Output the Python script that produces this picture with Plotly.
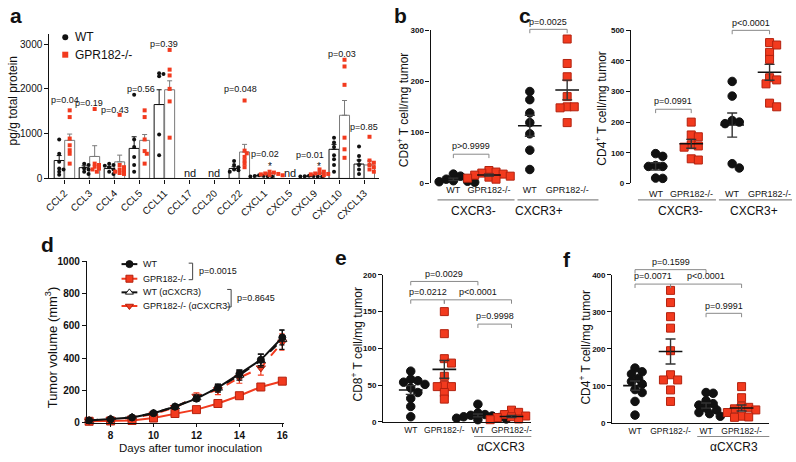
import numpy as np
import plotly.graph_objects as go

W, H = 796, 462
FONT = "Liberation Sans, Arial, sans-serif"
BLK = "#111111"
RED = "#f23a1e"
RED_LINE = "#b3220f"
GREY = "#8a8a8a"

# ---------------- panel a: chemokines (pg/g total protein) ----------------
chemokines = ["CCL2", "CCL3", "CCL4", "CCL5", "CCL11", "CCL17", "CCL20",
              "CCL22", "CXCL1", "CXCL5", "CXCL9", "CXCL10", "CXCL13"]
a_wt_mean = [400, 240, 220, 670, 1650, None, None, 220, 60, None, 50, 650, 320]
a_wt_sem = [110, 40, 40, 260, 330, None, None, 40, 8, None, 6, 110, 90]
a_ko_mean = [850, 490, 370, 850, 1980, None, None, 590, 110, None, 110, 1410, 300]
a_ko_sem = [140, 240, 150, 130, 200, None, None, 170, 15, None, 15, 330, 90]
a_wt_pts = [[870, 550, 370, 220, 200, 150, 80],
            [330, 300, 220, 200, 150, 100],
            [330, 300, 280, 250, 200, 150, 100],
            [1870, 870, 700, 480, 300, 150],
            [2330, 2350, 2280, 980, 520],
            [], [],
            [390, 300, 250, 200, 180, 150],
            [70, 60, 55, 50, 45, 40],
            [],
            [60, 55, 50, 45, 40, 35],
            [910, 800, 700, 520, 430, 300, 150],
            [710, 500, 400, 300, 200, 100]]
a_ko_pts = [[1520, 1370, 890, 740, 630, 550, 330],
            [1550, 330, 300, 260, 220, 200, 150],
            [1420, 300, 250, 200, 180, 150, 120, 100],
            [1520, 1370, 870, 610, 550, 330],
            [2870, 2430, 2300, 2000, 1720, 910],
            [], [],
            [1740, 620, 560, 480, 400, 330, 250],
            [150, 130, 110, 100, 90, 80, 70],
            [],
            [200, 150, 120, 110, 100, 90, 70],
            [2650, 2500, 2090, 910, 650, 460],
            [930, 400, 350, 300, 250, 200, 150]]
a_pvals = ["p=0.04", "p=0.19", "p=0.43", "p=0.56", "p=0.39", "p=0.048",
           "p=0.02", "p=0.01", "p=0.03", "p=0.85"]

# ---------------- panels b / c ----------------
bc_ticks = ["WT", "GPR182-/-", "WT", "GPR182-/-"]
b_groups = [[18, 14, 8, 5, 3, 2, 4],
            [25, 22, 20, 18, 16, 14, 12, 10, 8],
            [180, 164, 138, 119, 97, 65, 27],
            [283, 235, 209, 170, 150, 150, 148, 119]]
c_groups = [[97, 88, 58, 55, 55, 17, 16],
            [200, 158, 152, 126, 122, 118, 80, 76],
            [333, 285, 205, 200, 195, 64, 50],
            [460, 452, 428, 405, 345, 338, 325, 262, 250]]

# ---------------- panel d: tumour growth ----------------
days = [7, 8, 9, 10, 11, 12, 13, 14, 15, 16]
d_wt = [15, 22, 33, 60, 100, 150, 218, 303, 390, 528]
d_wt_sem = [5, 5, 8, 10, 12, 15, 20, 25, 35, 45]
d_ko = [10, 12, 15, 30, 58, 82, 120, 168, 222, 258]
d_ko_sem = [3, 3, 4, 5, 6, 8, 10, 12, 15, 15]
d_wt_ab = [15, 25, 35, 60, 100, 155, 215, 295, 385, 515]
d_wt_ab_sem = [5, 6, 8, 10, 15, 18, 25, 30, 40, 60]
d_ko_ab = [12, 20, 30, 55, 95, 165, 205, 280, 340, 500]
d_ko_ab_sem = [5, 6, 8, 10, 15, 20, 30, 35, 45, 50]

# ---------------- panels e / f ----------------
ef_ticks = ["WT", "GPR182-/-", "WT", "GPR182-/-"]
e_groups = [[69, 58, 56, 54, 51, 46, 40, 32, 21, 7],
            [150, 120, 86, 80, 62, 50, 48, 48, 40, 31],
            [24, 12, 10, 9, 8, 7, 6, 5, 4, 3],
            [16, 13, 10, 8, 7, 6, 5, 4, 3, 2]]
f_groups = [[148, 138, 132, 120, 112, 105, 90, 82, 58, 21],
            [358, 325, 287, 256, 195, 130, 116, 116, 89, 58],
            [82, 80, 60, 52, 48, 40, 35, 28, 25, 18],
            [98, 68, 45, 42, 38, 35, 28, 18, 16, 15]]

fig = go.Figure()
annotations, shapes = [], []


def xd(l, r):
    return [l / W, r / W]


def yd(top, bot):
    return [1 - bot / H, 1 - top / H]


def text(x, y, s, size=9, anchor="center", bold=False, angle=0, color=BLK):
    annotations.append(dict(
        x=x / W, y=1 - y / H, xref="paper", yref="paper", text=s, showarrow=False,
        font=dict(size=size, family=FONT, color=color, weight="bold" if bold else "normal"),
        xanchor=anchor, yanchor="middle", textangle=angle))


def line(x0, y0, x1, y1, color=GREY, w=1):
    shapes.append(dict(type="line", xref="paper", yref="paper",
                       x0=x0 / W, y0=1 - y0 / H, x1=x1 / W, y1=1 - y1 / H,
                       line=dict(color=color, width=w)))


def swarm(vals, ky, size, step):
    # simple beeswarm: returns horizontal pixel offsets
    order = sorted(range(len(vals)), key=lambda i: -vals[i])
    cands = [0]
    for k in range(1, 10):
        cands += [k * step, -k * step]
    placed, off = [], [0.0] * len(vals)
    for i in order:
        y = vals[i] * ky
        for c in cands:
            if all((c - x) ** 2 + (y - yy) ** 2 >= size ** 2 for x, yy in placed):
                break
        placed.append((c, y))
        off[i] = c
    return off


axis_base = dict(showline=True, linecolor=BLK, linewidth=1.3, ticks="outside",
                 ticklen=4, tickwidth=1.2, tickcolor=BLK, showgrid=False, zeroline=False,
                 tickfont=dict(family=FONT, size=10, color=BLK))
layout_axes = {}

# ================= panel a =================
A_L, A_R, A_T, A_B = 44, 378, 29, 177
a_xr, a_yr = (-0.6, 12.6), (0, 3220)
a_kx = (A_R - A_L) / (a_xr[1] - a_xr[0])
a_ky = (A_B - A_T) / (a_yr[1] - a_yr[0])
idx = list(range(len(chemokines)))
for means, sems, shift, lc in [(a_wt_mean, a_wt_sem, -0.21, BLK), (a_ko_mean, a_ko_sem, 0.21, "#7a7a7a")]:
    fig.add_trace(go.Bar(
        x=[i + shift for i in idx], y=means, width=0.4, xaxis="x", yaxis="y",
        marker=dict(color="white", line=dict(color=lc, width=1)),
        error_y=dict(type="data", symmetric=False, array=sems,
                     arrayminus=[0] * len(sems), color=lc, thickness=1, width=2.5),
        showlegend=False, hoverinfo="skip"))
for pts, shift, sym, col in [(a_wt_pts, -0.21, "circle", BLK), (a_ko_pts, 0.21, "square", RED)]:
    xs, ys = [], []
    for i, vals in enumerate(pts):
        offs = swarm(vals, a_ky, 3.2, 2.2)
        xs += [i + shift + o / a_kx for o in offs]
        ys += vals
    fig.add_trace(go.Scatter(x=xs, y=ys, mode="markers", xaxis="x", yaxis="y",
                             marker=dict(symbol=sym, size=4, color=col), cliponaxis=False,
                             showlegend=False, hoverinfo="skip"))
layout_axes["xaxis"] = dict(axis_base, domain=xd(A_L, A_R), range=list(a_xr), anchor="y",
                            tickvals=idx, ticktext=chemokines, tickangle=-45)
layout_axes["yaxis"] = dict(axis_base, domain=yd(A_T, A_B), range=list(a_yr), anchor="x",
                            tickvals=[0, 1000, 2000, 3000])
text(8, 97, "pg/g total protein", 12, angle=-90)
# legend a
text(68, 32, "WT", 12, anchor="left")
text(68, 50, "GPR182-/-", 12, anchor="left")
# p-values, nd, stars
for s, (x, y) in zip(a_pvals, [(60, 97), (84, 100), (110, 107), (137, 85), (160, 39), (237, 85),
                               (262, 152), (308, 153), (340, 49), (363, 124)]):
    text(x, y, s, 9)
for x in [186, 211, 288]:
    text(x, 171, "nd", 11)
for x, y in [(267, 165), (317, 165)]:
    text(x, y, "*", 10)

# ================= panels b, c, e, f =================
geo = {
    "b": dict(ax="2", l=430, r=600, xr=(0.36, 5.08), top=25, bot=182, yr=(0, 300),
              pos=[1, 2, 3.15, 4.2], groups=b_groups, ticks=bc_ticks, tfs=9, xline=False),
    "c": dict(ax="3", l=633, r=796, xr=(0.31, 4.83), top=25, bot=182, yr=(0, 500),
              pos=[1, 2, 3.15, 4.2], groups=c_groups, ticks=bc_ticks, tfs=9, xline=False),
    "e": dict(ax="5", l=382, r=532, xr=(0.18, 4.59), top=276, bot=427, yr=(0, 200),
              pos=[1, 2, 3, 4], groups=e_groups, ticks=ef_ticks, tfs=8.5, xline=True),
    "f": dict(ax="6", l=614, r=773, xr=(0.36, 4.78), top=276, bot=428, yr=(0, 400),
              pos=[1, 2, 3, 4], groups=f_groups, ticks=ef_ticks, tfs=8.5, xline=True),
}


def to_px(g, x, y):
    X = g["l"] + (x - g["xr"][0]) / (g["xr"][1] - g["xr"][0]) * (g["r"] - g["l"])
    Y = g["bot"] - (y - g["yr"][0]) / (g["yr"][1] - g["yr"][0]) * (g["bot"] - g["top"])
    return X, Y


def bracket(g, x1, x2, yv, label):
    X1, Y = to_px(g, x1, yv)
    X2, _ = to_px(g, x2, yv)
    line(X1, Y, X2, Y)
    line(X1, Y, X1, Y + 4)
    line(X2, Y, X2, Y + 4)
    text((X1 + X2) / 2, Y - 8, label, 9)


for key, g in geo.items():
    ax = g["ax"]
    kx = (g["r"] - g["l"]) / (g["xr"][1] - g["xr"][0])
    ky = (g["bot"] - g["top"]) / (g["yr"][1] - g["yr"][0])
    for k, (p, vals) in enumerate(zip(g["pos"], g["groups"])):
        ko = k % 2 == 1
        offs = swarm(vals, ky, 6.5, 3.6)
        fig.add_trace(go.Scatter(
            x=[p + o / kx for o in offs], y=vals, mode="markers", xaxis="x" + ax, yaxis="y" + ax,
            marker=dict(symbol="square" if ko else "circle", size=8 if ko else 8.5,
                        color=RED if ko else BLK,
                        line=dict(color=RED_LINE if ko else BLK, width=1)),
            cliponaxis=False, showlegend=False, hoverinfo="skip"))
        m = float(np.mean(vals))
        sem = float(np.std(vals, ddof=1) / np.sqrt(len(vals)))
        hw = 12 / kx
        fig.add_trace(go.Scatter(x=[p - hw, p + hw], y=[m, m], mode="lines",
                                 xaxis="x" + ax, yaxis="y" + ax, cliponaxis=False,
                                 line=dict(color=BLK, width=1.6), showlegend=False, hoverinfo="skip"))
        fig.add_trace(go.Scatter(x=[p], y=[m], mode="markers", xaxis="x" + ax, yaxis="y" + ax,
                                 marker=dict(size=1, color="rgba(0,0,0,0)"),
                                 error_y=dict(type="data", array=[sem], color="#333333",
                                              thickness=1.4, width=5),
                                 showlegend=False, hoverinfo="skip"))
        if key == "c":
            # group tick labels drawn as text so the last one is not clipped at the edge
            X, _ = to_px(g, p, 0)
            text(X, g["bot"] + 11, g["ticks"][k], g["tfs"])
    layout_axes["xaxis" + ax] = dict(
        axis_base, domain=xd(g["l"], g["r"]), range=list(g["xr"]), anchor="y" + ax,
        showline=g["xline"], tickvals=g["pos"], ticktext=g["ticks"], ticks="",
        showticklabels=(key != "c"),
        tickfont=dict(family=FONT, size=g["tfs"], color=BLK))
    step = g["yr"][1] // (5 if g["yr"][1] == 500 else 3 if g["yr"][1] == 300 else 4)
    layout_axes["yaxis" + ax] = dict(
        axis_base, domain=yd(g["top"], g["bot"]), range=list(g["yr"]), anchor="x" + ax,
        dtick=step, tickfont=dict(family=FONT, size=8, color=BLK, weight="bold"))

# brackets
bracket(geo["b"], 1, 2, 57, "p&gt;0.9999")
bracket(geo["b"], 3.15, 4.2, 302, "p=0.0025")
bracket(geo["c"], 1, 2, 242, "p=0.0991")
bracket(geo["c"], 3.15, 4.2, 500, "p&lt;0.0001")
bracket(geo["e"], 1, 3, 191, "p=0.0029")
bracket(geo["e"], 1, 2, 166, "p=0.0212")
bracket(geo["e"], 2, 4, 166, "p&lt;0.0001")
bracket(geo["e"], 3, 4, 133, "p=0.9998")
bracket(geo["f"], 1, 3, 414, "p=0.1599")
bracket(geo["f"], 1, 2, 375, "p=0.0071")
bracket(geo["f"], 2, 4, 375, "p&lt;0.0001")
bracket(geo["f"], 3, 4, 296, "p=0.9991")

# group lines and labels
for x0, x1, xc, lab in [(437, 515, 473, "CXCR3-"), (518, 600, 540, "CXCR3+"),
                        (640, 719, 683, "CXCR3-"), (722, 796, 758, "CXCR3+")]:
    line(x0, 199, x1, 199, GREY, 1.2)
    text(xc, 210, lab, 12)
for x0, x1, xc in [(474, 532, 501), (700, 773, 737)]:
    line(x0, 442, x1, 442, GREY, 1.2)
    text(xc, 453, "αCXCR3", 12)

# y titles
text(402, 106, "CD8<sup>+</sup> T cell/mg tumor", 12, angle=-90)
text(603, 105, "CD4<sup>+</sup> T cell/mg tumor", 12, angle=-90)
text(355, 347, "CD8<sup>+</sup> T cell/mg tumor", 12, angle=-90)
text(586, 350, "CD4<sup>+</sup> T cell/mg tumor", 12, angle=-90)

# ================= panel d =================
d_series = [
    (d_ko_ab, d_ko_ab_sem, RED, "dash", "triangle-down", RED, RED_LINE, 8),
    (d_wt_ab, d_wt_ab_sem, BLK, "dash", "triangle-up", "white", BLK, 8),
    (d_ko, d_ko_sem, RED, "solid", "square", RED, RED_LINE, 8),
    (d_wt, d_wt_sem, BLK, "solid", "circle", BLK, BLK, 7),
]
for ys, es, lc, dash, sym, fc, mc, sz in d_series:
    fig.add_trace(go.Scatter(
        x=days, y=ys, mode="lines+markers", xaxis="x4", yaxis="y4",
        line=dict(color=lc, width=2, dash=dash),
        marker=dict(symbol=sym, size=sz, color=fc, line=dict(color=mc, width=1)),
        error_y=dict(type="data", array=es, color=lc, thickness=1.2, width=3),
        cliponaxis=False, showlegend=False, hoverinfo="skip"))
layout_axes["xaxis4"] = dict(axis_base, domain=xd(82, 282), range=[6.9, 16.1], anchor="y4",
                             tickvals=[8, 10, 12, 14, 16], ticklen=3,
                             tickfont=dict(family=FONT, size=10, color=BLK, weight="bold"))
layout_axes["yaxis4"] = dict(axis_base, domain=yd(262, 428), range=[0, 1000], anchor="x4",
                             dtick=200, tickfont=dict(family=FONT, size=10, color=BLK, weight="bold"))
text(46, 350, "Tumor volume (mm<sup>3</sup>)", 13, angle=-90)
text(187, 454, "Days after tumor inoculation", 11.5)

# legend d drawn on a pixel overlay axis
leg = [("WT", 265, BLK, "circle", BLK, BLK),
       ("GPR182-/-", 280, RED, "square", RED, RED_LINE),
       ("WT (αCXCR3)", 294, BLK, "triangle-up", "white", BLK),
       ("GPR182-/- (αCXCR3)", 308, RED, "triangle-down", RED, RED_LINE)]
for name, y, lc, sym, fc, mc in leg:
    fig.add_trace(go.Scatter(x=[117, 133], y=[y, y], mode="lines", xaxis="x7", yaxis="y7",
                             line=dict(color=lc, width=2), showlegend=False, hoverinfo="skip"))
    fig.add_trace(go.Scatter(x=[125], y=[y], mode="markers", xaxis="x7", yaxis="y7",
                             marker=dict(symbol=sym, size=7, color=fc, line=dict(color=mc, width=1)),
                             showlegend=False, hoverinfo="skip"))
    text(137, y, name, 9, anchor="left")
# legend a markers
fig.add_trace(go.Scatter(x=[60, 60], y=[32, 50], mode="markers", xaxis="x7", yaxis="y7",
                         marker=dict(symbol=["circle", "square"], size=6, color=[BLK, RED]),
                         showlegend=False, hoverinfo="skip"))
for x, y0, y1, lab in [(189, 264, 281, "p=0.0015"), (228, 291, 309, "p=0.8645")]:
    line(x, y0, x, y1, "#444444", 1)
    line(x - 4, y0, x, y0, "#444444", 1)
    line(x - 4, y1, x, y1, "#444444", 1)
    text(x + 4, (y0 + y1) / 2, lab, 9, anchor="left")
layout_axes["xaxis7"] = dict(domain=[0, 1], range=[0, W], visible=False, fixedrange=True, anchor="y7")
layout_axes["yaxis7"] = dict(domain=[0, 1], range=[H, 0], visible=False, fixedrange=True, anchor="x7")

# panel letters
for s, x, y in [("a", 10, 10), ("b", 400, 10), ("c", 526, 10), ("d", 42, 245),
                ("e", 339, 258), ("f", 568, 260)]:
    text(x, y, s, 21, bold=True)

fig.update_layout(
    width=W, height=H, margin=dict(l=0, r=0, t=0, b=0),
    paper_bgcolor="white", plot_bgcolor="rgba(0,0,0,0)",
    barmode="overlay", showlegend=False,
    font=dict(family=FONT, color=BLK),
    annotations=annotations, shapes=shapes, **layout_axes)

# drop the default page margin so the figure sits at the window's top-left corner
fig.write_html("out.html", config={"displayModeBar": False},
               post_script="document.body.style.margin='0';")
